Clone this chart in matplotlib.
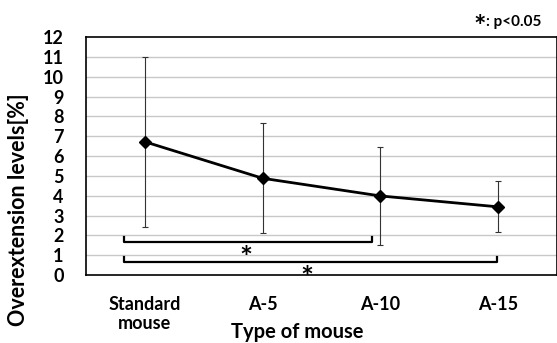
import numpy as np
import matplotlib
matplotlib.use("Agg")
from matplotlib import pyplot as plt

# data
groups = ["Standard\nmouse", "A-5", "A-10", "A-15"]
means = [6.72, 4.88, 3.99, 3.44]
err_up = [4.26, 2.77, 2.48, 1.30]
err_lo = [4.28, 2.78, 2.48, 1.29]
yticks = list(range(0, 13))

plt.rcParams['font.family'] = ['Lato', 'DejaVu Sans']
plt.rcParams['font.weight'] = 'bold'

fig = plt.figure(figsize=(5.57, 3.43), dpi=100)
ax = fig.add_axes([0.1544, 0.198, 0.8456, 0.694])

x = np.arange(len(groups))
for y in range(1, 12):
    ax.axhline(y, color="#c8c8c8", lw=1.0, zorder=0)

ax.errorbar(x, means, yerr=[err_lo, err_up], fmt="none", ecolor="#333333",
            elinewidth=0.8, capsize=2.5, capthick=0.8, zorder=2)
ax.plot(x, means, color="black", lw=2, marker="D", ms=6.5, zorder=3)

# significance brackets
def bracket(x0, x1, ytop, ybar, sx, sy):
    ax.plot([x0, x0, x1, x1], [ytop, ybar, ybar, ytop], color="black", lw=1.6, zorder=3)
    ax.text(sx, sy, "*", ha="center", va="center", fontsize=22, fontweight="bold")

bracket(-0.18, 1.93, 1.92, 1.68, 0.86, 0.8)
bracket(-0.18, 2.99, 0.92, 0.64, 1.38, -0.22)

ax.set_xlim(-0.5, 3.5)
ax.set_ylim(0, 12)
ax.set_yticks(yticks)
ax.set_xticks(x)
ax.set_xticklabels(groups, fontsize=13.5, fontweight="bold", linespacing=1.15)
ax.tick_params(axis="both", length=0, labelsize=13)
ax.tick_params(axis="x", pad=15)
ax.tick_params(axis="y", pad=16)
for s in ax.spines.values():
    s.set_linewidth(1.2)
    s.set_color("black")

ax.set_xlabel("Type of mouse", fontsize=14.5, fontweight="bold")
ax.xaxis.set_label_coords(0.448, -0.195)
ax.set_ylabel("Overextension levels[%]", fontsize=15.5, fontweight="bold")
ax.yaxis.set_label_coords(-0.12, 0.275)

fig.text(0.862, 0.922, "*", fontsize=21, fontweight="bold", ha="center", va="center")
fig.text(0.872, 0.937, ": p<0.05", fontsize=11, fontweight="bold", ha="left", va="center")

fig.savefig("out.png", dpi=100)
